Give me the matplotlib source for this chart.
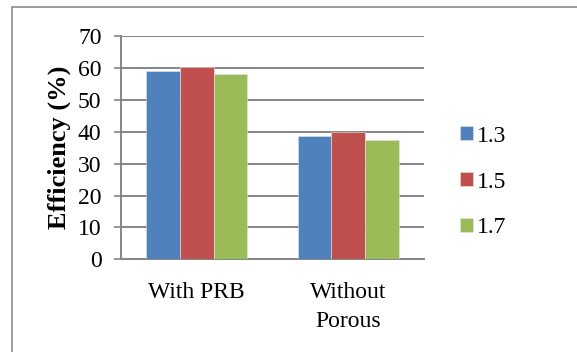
import matplotlib.pyplot as plt
import numpy as np
from matplotlib.patches import Rectangle

categories = ["With PRB", "Without\nPorous"]
series_names = ["1.3", "1.5", "1.7"]
values_13 = [59.0, 38.6]
values_15 = [60.2, 39.8]
values_17 = [58.2, 37.3]
colors = ["#4F81BD", "#C0504D", "#9BBB59"]

plt.rcParams["font.family"] = ["Liberation Serif", "DejaVu Serif"]

fig = plt.figure(figsize=(5.77, 3.52), dpi=100)
ax = fig.add_axes([121 / 577, 92.7 / 352, 303 / 577, 223.3 / 352])

# outer chart border
fig.patches.append(
    Rectangle((12 / 577, -0.05), 1.0, (345 / 352) + 0.05, transform=fig.transFigure,
              fill=False, edgecolor="#8c8c8c", linewidth=1.2)
)

x = np.arange(len(categories))
width = 1 / 4.5
for i, (vals, name, c) in enumerate(zip([values_13, values_15, values_17], series_names, colors)):
    ax.bar(x + (i - 1) * width, vals, width, color=c, label=name,
           edgecolor="#e6e6e6", linewidth=0.4, zorder=3)

ax.set_xlim(-0.5, 1.5)
ax.set_ylim(0, 70)
ax.set_yticks(range(0, 71, 10))
ax.set_xticks(x)
ax.set_xticklabels(categories, fontsize=17, linespacing=1.55, va="top")
ax.tick_params(axis="y", labelsize=17, length=5, width=1.2, color="#868686", pad=9)
ax.tick_params(axis="x", length=0, pad=16)
ax.yaxis.grid(True, color="#868686", linewidth=1.4, zorder=0)
for s in ["top", "right"]:
    ax.spines[s].set_visible(False)
for s in ["left", "bottom"]:
    ax.spines[s].set_color("#868686")
    ax.spines[s].set_linewidth(1.4)
ax.set_ylabel("Efficiency (%)", fontsize=19, fontweight="bold", labelpad=5)

fig.legend(*ax.get_legend_handles_labels(), loc="center left",
           bbox_to_anchor=(460 / 577, 170 / 352), frameon=False,
           fontsize=17, handlelength=0.55, handleheight=0.55, handletextpad=0.15,
           labelspacing=1.05, borderaxespad=0, borderpad=0)

fig.savefig("out.png", dpi=100)
